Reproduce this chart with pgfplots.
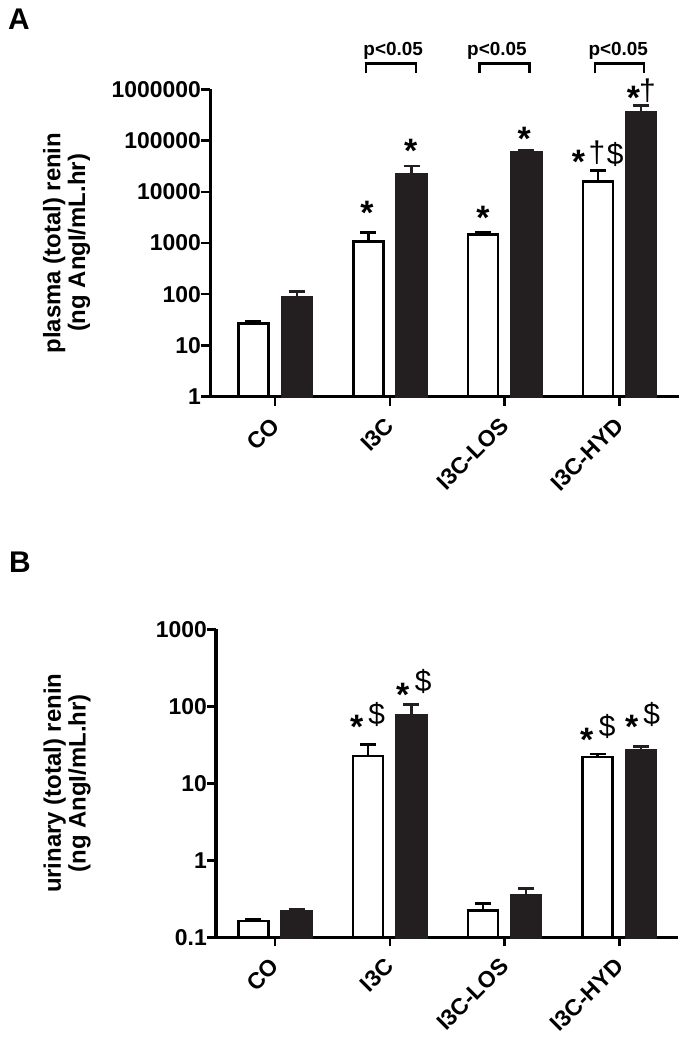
\documentclass[border=0pt]{standalone}
\usepackage{pgfplots}
\pgfplotsset{compat=1.18}
\usepackage{fontspec}
\setmainfont{Liberation Sans}
\definecolor{barblack}{RGB}{35,31,32}

\tikzset{
  astmark/.style={font=\fontsize{34}{34}\selectfont\bfseries, anchor=base, inner sep=0pt, yshift=-19.6bp},
  dagmark/.style={font=\fontsize{30}{30}\selectfont, anchor=base, inner sep=0pt, yshift=-8.4bp},
  dolmark/.style={font=\fontsize{30}{30}\selectfont, anchor=base, inner sep=0pt, yshift=-9.9bp},
  pvalmark/.style={font=\fontsize{19}{19}\selectfont\bfseries, anchor=base, inner sep=0pt},
}

\begin{document}
\begin{tikzpicture}
\useasboundingbox (0,0) rectangle (689bp,-1050bp);

\node[anchor=north west, inner sep=0pt, font=\fontsize{30}{30}\selectfont\bfseries] at (8bp,-8.3bp) {A};
\node[anchor=north west, inner sep=0pt, font=\fontsize{30}{30}\selectfont\bfseries] at (9bp,-551.7bp) {B};

% ---------------- Panel A ----------------
\begin{axis}[
  at={(210bp,-396.7bp)}, anchor=south west,
  scale only axis, width=468.5bp, height=307.4bp,
  ymode=log,
  xmin=-0.568, xmax=3.514,
  ymin=1, ymax=1000000,
  axis x line=bottom, axis y line=left,
  axis line style={line width=3bp, -},
  xtick={0,1,2,3},
  xticklabels={CO,I3C,I3C-LOS,I3C-HYD},
  ytick={1,10,100,1000,10000,100000,1000000},
  yticklabels={1,10,100,1000,10000,100000,1000000},
  yminorticks=false,
  tick align=outside,
  major tick length=9bp,
  tick style={line width=2.5bp, black},
  xticklabel style={rotate=45, anchor=east, inner sep=0pt, font=\fontsize{23}{23}\selectfont\bfseries},
  xticklabel shift=16bp,
  yticklabel style={inner sep=0pt, font=\fontsize{23}{23}\selectfont\bfseries},
  yticklabel shift=0bp,
  ylabel={plasma (total) renin\\(ng AngI/mL.hr)},
  ylabel style={align=center, font=\fontsize{24}{25}\selectfont\bfseries, anchor=center, at={(axis description cs:-0.306,0.5)}},
  ybar=13.4bp, bar width=30bp,
  log origin=infty,
  clip=false,
]
\addplot[fill=white, draw=black, line width=2.5bp,
  error bars/.cd, y dir=plus, y explicit,
  error bar style={line width=2.5bp, black},
  error mark options={line width=2.5bp, mark size=8bp, black, rotate=90}]
  table[x=x, y=y, y error plus=ep] {
x y ep
0 27 3
1 1060 560
2 1480 110
3 15700 10100
};
\addplot[fill=barblack, draw=barblack, line width=2.5bp,
  error bars/.cd, y dir=plus, y explicit,
  error bar style={line width=2.5bp, barblack},
  error mark options={line width=2.5bp, mark size=8bp, barblack, rotate=90}]
  table[x=x, y=y, y error plus=ep] {
x y ep
0 86 26
1 21900 10000
2 58000 7300
3 350000 129000
};
% significance marks
\node[astmark] at (axis cs:0.80,5521) {*};
\node[astmark] at (axis cs:1.18,88330) {*};
\node[astmark] at (axis cs:1.81,4406) {*};
\node[astmark] at (axis cs:2.17,155700) {*};
\node[astmark] at (axis cs:2.643,53950) {*};
\node[dagmark] at (axis cs:2.803,54100) {†};
\node[dolmark] at (axis cs:2.962,52240) {\$};
\node[astmark] at (axis cs:3.122,970000) {*};
\node[dagmark] at (axis cs:3.244,899000) {†};
% brackets
\draw[line width=2.5bp] (axis cs:0.793,2055000) |- (axis cs:1.229,3220000) -- (axis cs:1.229,2055000);
\draw[line width=2.5bp] (axis cs:1.780,2055000) |- (axis cs:2.216,3220000) -- (axis cs:2.216,2055000);
\draw[line width=2.5bp] (axis cs:2.788,2055000) |- (axis cs:3.215,3220000) -- (axis cs:3.215,2055000);
\node[pvalmark] at (axis cs:1.028,4470000) {p<0.05};
\node[pvalmark] at (axis cs:1.932,4470000) {p<0.05};
\node[pvalmark] at (axis cs:2.989,4470000) {p<0.05};
\end{axis}

% ---------------- Panel B ----------------
\begin{axis}[
  at={(216bp,-937.3bp)}, anchor=south west,
  scale only axis, width=462.3bp, height=308bp,
  ymode=log,
  xmin=-0.514, xmax=3.514,
  ymin=0.1, ymax=1000,
  axis x line=bottom, axis y line=left,
  axis line style={line width=3bp, -},
  xtick={0,1,2,3},
  xticklabels={CO,I3C,I3C-LOS,I3C-HYD},
  ytick={0.1,1,10,100,1000},
  yticklabels={0.1,1,10,100,1000},
  yminorticks=false,
  tick align=outside,
  major tick length=9bp,
  tick style={line width=2.5bp, black},
  xticklabel style={rotate=45, anchor=east, inner sep=0pt, font=\fontsize{23}{23}\selectfont\bfseries},
  xticklabel shift=16bp,
  yticklabel style={inner sep=0pt, font=\fontsize{23}{23}\selectfont\bfseries},
  yticklabel shift=0bp,
  ylabel={urinary (total) renin\\(ng AngI/mL.hr)},
  ylabel style={align=center, font=\fontsize{24}{25}\selectfont\bfseries, anchor=center, at={(axis description cs:-0.322,0.5)}},
  ybar=13.4bp, bar width=30bp,
  log origin=infty,
  clip=false,
]
\addplot[fill=white, draw=black, line width=2.5bp,
  error bars/.cd, y dir=plus, y explicit,
  error bar style={line width=2.5bp, black},
  error mark options={line width=2.5bp, mark size=8bp, black, rotate=90}]
  table[x=x, y=y, y error plus=ep] {
x y ep
0 0.164 0.007
1 22.6 9.5
2 0.222 0.051
3 22.1 2.1
};
\addplot[fill=barblack, draw=barblack, line width=2.5bp,
  error bars/.cd, y dir=plus, y explicit,
  error bar style={line width=2.5bp, barblack},
  error mark options={line width=2.5bp, mark size=8bp, barblack, rotate=90}]
  table[x=x, y=y, y error plus=ep] {
x y ep
0 0.215 0.018
1 75.5 29.5
2 0.354 0.079
3 27.1 3.1
};
\node[astmark] at (axis cs:0.712,68.4) {*};
\node[dolmark] at (axis cs:0.886,77.1) {\$};
\node[astmark] at (axis cs:1.113,176.6) {*};
\node[dolmark] at (axis cs:1.292,208.5) {\$};
\node[astmark] at (axis cs:2.716,46.8) {*};
\node[dolmark] at (axis cs:2.895,54.3) {\$};
\node[astmark] at (axis cs:3.108,68.4) {*};
\node[dolmark] at (axis cs:3.282,77.1) {\$};
\end{axis}
\end{tikzpicture}
\end{document}
